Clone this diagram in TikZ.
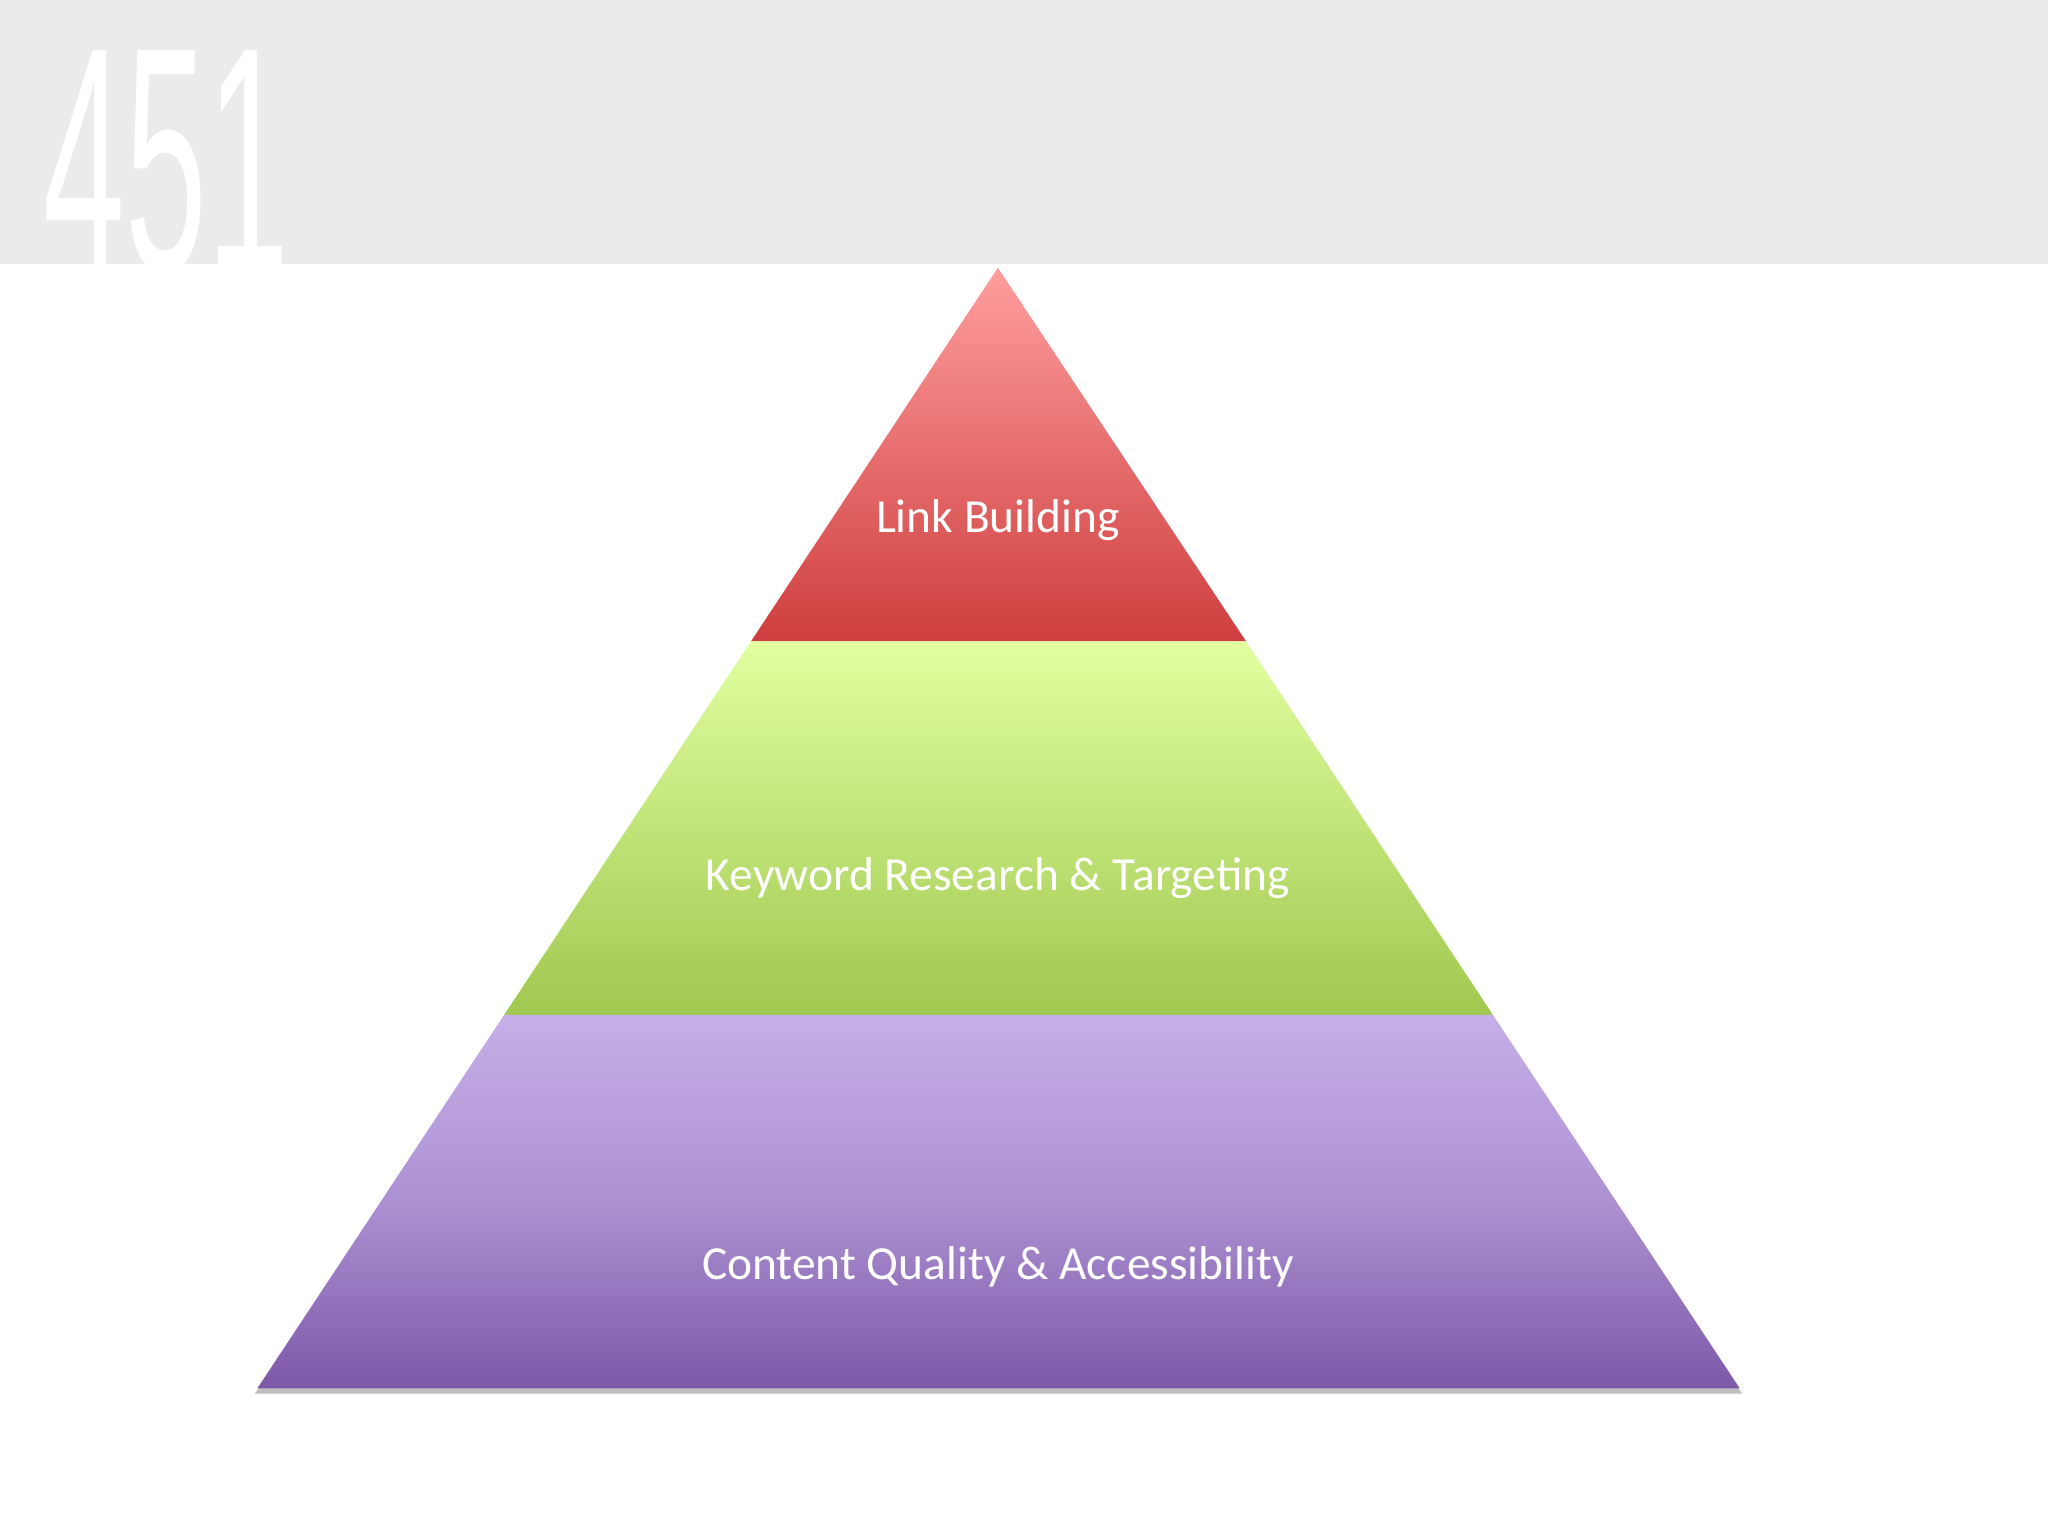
\documentclass[tikz,border=0pt]{standalone}
\usepackage{fontspec}
\setmainfont{Carlito}
\newfontfamily\numfont{Liberation Sans}
\tikzset{lbl/.style={text=white,font=\fontsize{13.5}{16}\selectfont}}
\begin{document}
\begin{tikzpicture}[x=0.013061cm,y=-0.013061cm]
\useasboundingbox (0,0) rectangle (1568,1176);
\fill[white] (0,0) rectangle (1568,1176);
\fill[black!8] (0,0) rectangle (1568,202);
\begin{scope}
\clip (0,0) rectangle (1568,202);
\node[anchor=north west,inner sep=0,text=white] (num) at (33,38) {\resizebox{2.45cm}{2.2cm}{\numfont 451}};
\end{scope}
\fill[black!25] (199,1062) -- (1330,1062) -- (1334,1067) -- (195,1067) -- cycle;
\shade[top color={rgb,255:red,255;green,158;blue,158}, bottom color={rgb,255:red,206;green,62;blue,62}] (764,205) -- (954,491) -- (575,491) -- cycle;
\shade[top color={rgb,255:red,226;green,255;blue,160}, bottom color={rgb,255:red,160;green,200;blue,80}] (575,491) -- (954,491) -- (1143,777) -- (386,777) -- cycle;
\shade[top color={rgb,255:red,198;green,175;blue,232}, bottom color={rgb,255:red,126;green,88;blue,168}, middle color={rgb,255:red,172;green,145;blue,210}] (386,777) -- (1143,777) -- (1332,1063) -- (197,1063) -- cycle;
\node[lbl] (t1) at (764,398) {Link Building};
\node[lbl] (t2) at (764,672) {Keyword Research \& Targeting};
\node[lbl] (t3) at (764,970) {Content Quality \& Accessibility};
\end{tikzpicture}
\end{document}
